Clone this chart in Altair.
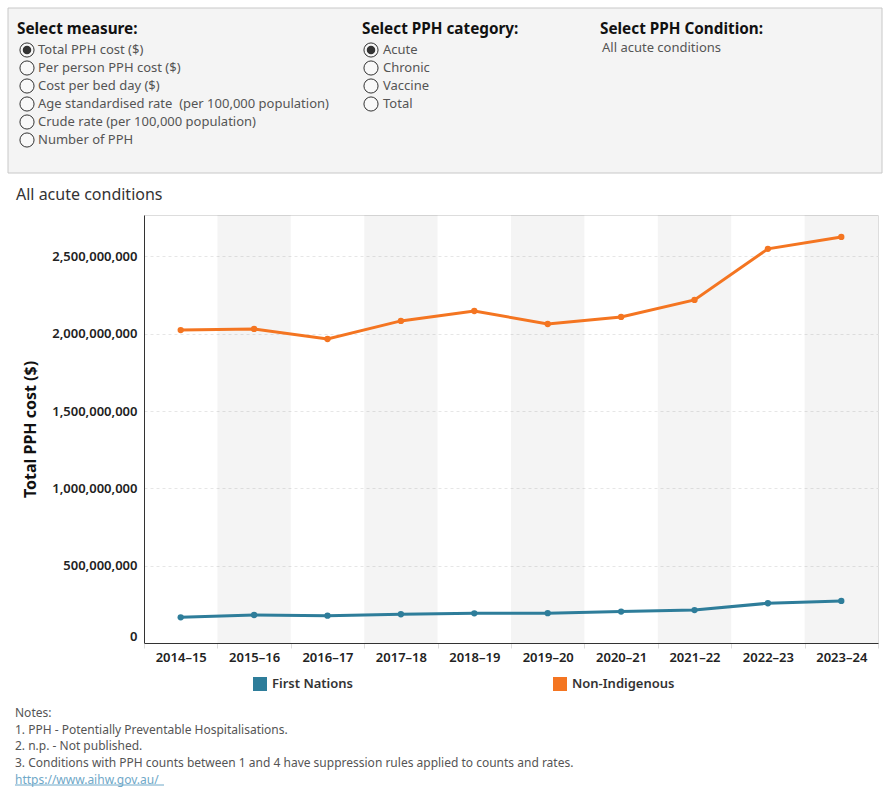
import altair as alt
import pandas as pd

# ---------------- data ----------------
years = ["2014–15", "2015–16", "2016–17", "2017–18", "2018–19",
         "2019–20", "2020–21", "2021–22", "2022–23", "2023–24"]
first_nations = [166e6, 181e6, 177e6, 186e6, 192e6, 193e6, 203e6, 213e6, 257e6, 272e6]
non_indigenous = [2024e6, 2031e6, 1966e6, 2083e6, 2147e6, 2063e6, 2109e6, 2219e6, 2549e6, 2626e6]
series_names = ["First Nations", "Non-Indigenous"]
series_colors = ["#2e7d9a", "#f47521"]
y_ticks = [0, 500e6, 1000e6, 1500e6, 2000e6, 2500e6]

measures = ["Total PPH cost ($)", "Per person PPH cost ($)", "Cost per bed day ($)",
            "Age standardised rate\u00a0 (per 100,000 population)",
            "Crude rate (per 100,000 population)", "Number of PPH"]
categories = ["Acute", "Chronic", "Vaccine", "Total"]
condition = "All acute conditions"
notes = ["Notes:", "1. PPH - Potentially Preventable Hospitalisations.", "2. n.p. - Not published.",
         "3. Conditions with PPH counts between 1 and 4 have suppression rules applied to counts and rates."]
link = "https://www.aihw.gov.au/"

FONT = "Noto Sans"
W, H = 734, 428

df = pd.DataFrame({
    "year": years * 2,
    "series": [series_names[0]] * len(years) + [series_names[1]] * len(years),
    "value": first_nations + non_indigenous,
})
bands = pd.DataFrame({"year": years[1::2]})
legend_df = pd.DataFrame({"series": series_names, "i": [0, 1]})

xscale = alt.Scale(domain=years, paddingInner=0, paddingOuter=0)
yscale = alt.Scale(domain=[0, 2768e6], nice=False, zero=True)
cscale = alt.Scale(domain=series_names, range=series_colors)

x_axis = alt.Axis(title=None, labelAngle=0, labelFontSize=13, labelFontWeight=600,
                  labelColor="#222", domainColor="#333", domainWidth=1,
                  ticks=True, tickBand="extent", tickColor="#dddddd", tickSize=5,
                  labelPadding=3, grid=False, labelFont=FONT)
y_axis = alt.Axis(title="Total PPH cost ($)", titleFontSize=16, titleFontWeight="bold",
                  titleColor="#111", titleFont=FONT, titlePadding=13,
                  values=y_ticks, format=",d", labelFontSize=13, labelFontWeight=600,
                  labelColor="#222", labelFont=FONT, labelPadding=7, ticks=False,
                  domainColor="#333", domainWidth=1, grid=True, gridColor="#e6e6e6",
                  gridDash=[3, 3], labelFlush=True)

band_layer = alt.Chart(bands).mark_rect(color="#000000", opacity=0.045).encode(
    x=alt.X("year:N", scale=xscale, axis=x_axis, sort=years)
)
line_layer = alt.Chart(df).mark_line(strokeWidth=3).encode(
    x=alt.X("year:N", scale=xscale, axis=x_axis, sort=years),
    y=alt.Y("value:Q", scale=yscale, axis=y_axis),
    color=alt.Color("series:N", scale=cscale, legend=None),
)
point_layer = alt.Chart(df).mark_point(filled=True, size=40, opacity=1).encode(
    x=alt.X("year:N", scale=xscale, axis=x_axis, sort=years),
    y=alt.Y("value:Q", scale=yscale, axis=y_axis),
    color=alt.Color("series:N", scale=cscale, legend=None),
)

# legend (drawn from the series list through the colour scale)
legend_base = alt.Chart(legend_df).transform_calculate(px="116 + datum.i * 300")
legend_swatch = legend_base.mark_square(size=196, filled=True, opacity=1).encode(
    x=alt.X("px:Q", scale=None, axis=None), y=alt.value(469),
    color=alt.Color("series:N", scale=cscale, legend=None))
legend_text = legend_base.transform_calculate(tx="datum.px + 12").mark_text(
    align="left", baseline="middle", fontSize=13, fontWeight=600, color="#333", font=FONT
).encode(x=alt.X("tx:Q", scale=None, axis=None), y=alt.value(469), text="series:N")


def text_at(text, x, y, size, color, weight="normal"):
    return alt.Chart(pd.DataFrame({"t": [text]})).mark_text(
        align="left", baseline="middle", fontSize=size, fontWeight=weight,
        color=color, font=FONT
    ).encode(x=alt.value(x), y=alt.value(y), text="t:N")


def radio_group(options, cx, tx, y0, step=18):
    d = pd.DataFrame({"opt": options, "i": list(range(len(options)))})
    base = alt.Chart(d).transform_calculate(py=f"{y0} + datum.i * {step}")
    ypos = alt.Y("py:Q", scale=None, axis=None)
    circles = base.mark_point(shape="circle", size=200, filled=True, fill="#f8f8f8",
                              stroke="#333", strokeWidth=1, opacity=1).encode(
        x=alt.value(cx), y=ypos)
    dot = base.transform_filter("datum.i == 0").mark_point(
        shape="circle", size=72, filled=True, color="#333", opacity=1).encode(
        x=alt.value(cx), y=ypos)
    labels = base.mark_text(align="left", baseline="middle", fontSize=13,
                            color="#555", font=FONT).encode(
        x=alt.value(tx), y=ypos, text="opt:N")
    return [circles, dot, labels]


def text_lines(lines, x, y0, step, size, color):
    d = pd.DataFrame({"t": lines, "i": list(range(len(lines)))})
    return alt.Chart(d).transform_calculate(py=f"{y0} + datum.i * {step}").mark_text(
        align="left", baseline="middle", fontSize=size, color=color, font=FONT
    ).encode(x=alt.value(x), y=alt.Y("py:Q", scale=None, axis=None), text="t:N")


one = pd.DataFrame({"a": [1]})
panel = alt.Chart(one).mark_rect(fill="#f4f4f4", stroke="#c8c8c8", strokeWidth=1).encode(
    x=alt.value(-136), x2=alt.value(738), y=alt.value(-207), y2=alt.value(-42))

link_rule = alt.Chart(one).mark_rule(color="#6fa8c8", strokeWidth=1).encode(
    x=alt.value(-129), x2=alt.value(20), y=alt.value(570))

layers = [panel,
          text_at("Select measure:", -127, -186, 15.3, "#111", "bold"),
          text_at("Select PPH category:", 218, -186, 15.3, "#111", "bold"),
          text_at("Select PPH Condition:", 456, -186, 15.3, "#111", "bold"),
          text_at(condition, 458, -167, 13, "#555"),
          *radio_group(measures, -117, -106, -165),
          *radio_group(categories, 227, 239, -165),
          text_at(condition, -128, -20, 16, "#333"),
          band_layer, line_layer, point_layer,
          legend_swatch, legend_text,
          text_lines(notes, -129, 498, 16.6, 12, "#555"),
          text_at(link, -129, 564.5, 12, "#6fa8c8"),
          link_rule]

chart = alt.layer(*layers).properties(
    width=W, height=H,
    autosize=alt.AutoSizeParams(type="none"),
    padding={"left": 144, "top": 215, "right": 12, "bottom": 157},
    background="#ffffff",
).configure_view(stroke=None).configure(font=FONT)

chart.save("out.html", embed_options={"renderer": "svg", "actions": False})
